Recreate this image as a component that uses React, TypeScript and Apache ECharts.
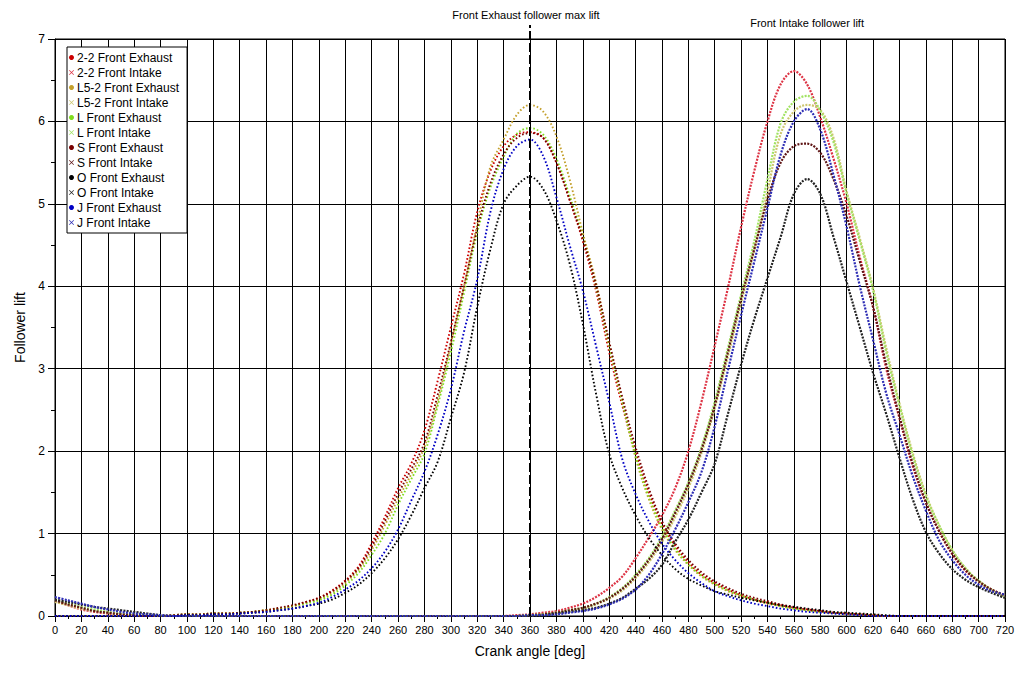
import React, { useEffect, useRef } from "react";
import * as echarts from "echarts";

const ANGLES = [
  0, 10, 20, 30, 40, 50, 60, 70, 80, 90,
  100, 110, 120, 130, 140, 150, 160, 170, 180, 190,
  200, 210, 220, 230, 240, 250, 260, 270, 280, 290,
  300, 310, 320, 330, 340, 350, 360, 370, 380, 390,
  400, 410, 420, 430, 440, 450, 460, 470, 480, 490,
  500, 510, 520, 530, 540, 550, 560, 570, 580, 590,
  600, 610, 620, 630, 640, 650, 660, 670, 680, 690,
  700, 710, 720,
];

const EX_2_2 = [
  0, 0, 0, 0, 0, 0, 0, 0, 0, 0.01,
  0.02, 0.02, 0.03, 0.03, 0.04, 0.05, 0.07, 0.09, 0.12, 0.17,
  0.22, 0.31, 0.43, 0.6, 0.88, 1.2, 1.55, 1.85, 2.25, 2.85,
  3.5, 4.15, 4.9, 5.4, 5.7, 5.84, 5.87, 5.8, 5.5, 5.05,
  4.55, 3.95, 3.2, 2.55, 1.98, 1.5, 1.12, 0.85, 0.65, 0.5,
  0.4, 0.32, 0.25, 0.2, 0.16, 0.13, 0.1, 0.08, 0.06, 0.04,
  0.03, 0.02, 0.01, 0, 0, 0, 0, 0, 0, 0,
  0, 0, 0,
];
const IN_2_2 = [
  0.18, 0.13, 0.08, 0.05, 0.03, 0.02, 0.01, 0, 0, 0,
  0, 0, 0, 0, 0, 0, 0, 0, 0, 0,
  0, 0, 0, 0, 0, 0, 0, 0, 0, 0,
  0, 0, 0, 0, 0, 0.01, 0.02, 0.04, 0.06, 0.1,
  0.15, 0.23, 0.34, 0.48, 0.7, 0.95, 1.22, 1.55, 2.0, 2.6,
  3.28, 3.98, 4.72, 5.4, 6.0, 6.45, 6.61, 6.45, 6.05, 5.55,
  5.0, 4.35, 3.75, 3.0, 2.4, 1.82, 1.38, 1.03, 0.75, 0.55,
  0.42, 0.32, 0.25,
];
const EX_L5_2 = [
  0, 0, 0, 0, 0, 0, 0, 0, 0, 0.01,
  0.02, 0.02, 0.03, 0.03, 0.04, 0.05, 0.07, 0.09, 0.12, 0.16,
  0.2, 0.28, 0.4, 0.56, 0.8, 1.1, 1.42, 1.72, 2.05, 2.6,
  3.3, 4.0, 4.75, 5.45, 5.78, 6.08, 6.2, 6.12, 5.82, 5.3,
  4.65, 4.05, 3.3, 2.6, 1.92, 1.42, 1.05, 0.8, 0.62, 0.48,
  0.38, 0.3, 0.24, 0.19, 0.15, 0.12, 0.09, 0.07, 0.05, 0.04,
  0.03, 0.02, 0.01, 0, 0, 0, 0, 0, 0, 0,
  0, 0, 0,
];
const IN_L5_2 = [
  0.17, 0.13, 0.09, 0.06, 0.04, 0.02, 0.01, 0, 0, 0,
  0, 0, 0, 0, 0, 0, 0, 0, 0, 0,
  0, 0, 0, 0, 0, 0, 0, 0, 0, 0,
  0, 0, 0, 0, 0, 0, 0.01, 0.02, 0.04, 0.06,
  0.09, 0.14, 0.21, 0.31, 0.46, 0.65, 0.9, 1.2, 1.55, 1.98,
  2.52, 3.15, 3.8, 4.45, 5.15, 5.85, 6.12, 6.2, 6.14, 5.8,
  5.15, 4.58, 3.98, 3.25, 2.58, 1.98, 1.48, 1.1, 0.8, 0.58,
  0.42, 0.31, 0.22,
];
const EX_L = [
  0, 0, 0, 0, 0, 0, 0, 0, 0, 0.01,
  0.02, 0.02, 0.03, 0.03, 0.04, 0.05, 0.07, 0.09, 0.12, 0.15,
  0.19, 0.26, 0.37, 0.52, 0.74, 1.0, 1.35, 1.66, 1.97, 2.55,
  3.2, 3.92, 4.65, 5.2, 5.57, 5.85, 5.92, 5.84, 5.55, 5.1,
  4.6, 4.0, 3.28, 2.6, 1.95, 1.45, 1.08, 0.82, 0.63, 0.49,
  0.39, 0.31, 0.25, 0.2, 0.16, 0.12, 0.09, 0.07, 0.05, 0.04,
  0.03, 0.02, 0.01, 0, 0, 0, 0, 0, 0, 0,
  0, 0, 0,
];
const IN_L = [
  0.19, 0.15, 0.11, 0.08, 0.05, 0.03, 0.02, 0.01, 0, 0,
  0, 0, 0, 0, 0, 0, 0, 0, 0, 0,
  0, 0, 0, 0, 0, 0, 0, 0, 0, 0,
  0, 0, 0, 0, 0, 0, 0.01, 0.02, 0.04, 0.07,
  0.1, 0.15, 0.23, 0.34, 0.5, 0.7, 0.96, 1.28, 1.62, 2.05,
  2.6, 3.25, 3.9, 4.55, 5.3, 5.98, 6.24, 6.31, 6.13, 5.75,
  5.12, 4.55, 3.95, 3.2, 2.55, 1.95, 1.45, 1.1, 0.8, 0.58,
  0.43, 0.32, 0.24,
];
const EX_S = [
  0, 0, 0, 0, 0, 0, 0, 0, 0, 0.01,
  0.02, 0.02, 0.03, 0.03, 0.04, 0.05, 0.07, 0.1, 0.13, 0.17,
  0.22, 0.3, 0.42, 0.58, 0.84, 1.15, 1.48, 1.78, 2.1, 2.68,
  3.32, 4.0, 4.7, 5.25, 5.6, 5.8, 5.86, 5.8, 5.5, 5.05,
  4.58, 4.02, 3.33, 2.65, 2.05, 1.55, 1.15, 0.88, 0.68, 0.53,
  0.42, 0.34, 0.27, 0.22, 0.18, 0.14, 0.11, 0.08, 0.06, 0.04,
  0.03, 0.02, 0.01, 0, 0, 0, 0, 0, 0, 0,
  0, 0, 0,
];
const IN_S = [
  0.19, 0.14, 0.1, 0.06, 0.04, 0.02, 0.01, 0, 0, 0,
  0, 0, 0, 0, 0, 0, 0, 0, 0, 0,
  0, 0, 0, 0, 0, 0, 0, 0, 0, 0,
  0, 0, 0, 0, 0, 0, 0.01, 0.02, 0.04, 0.07,
  0.1, 0.15, 0.22, 0.33, 0.48, 0.68, 0.93, 1.25, 1.6, 2.02,
  2.55, 3.2, 3.85, 4.45, 5.05, 5.5, 5.7, 5.73, 5.62, 5.3,
  4.85, 4.3, 3.75, 3.05, 2.42, 1.85, 1.38, 1.03, 0.76, 0.56,
  0.42, 0.32, 0.25,
];
const EX_O = [
  0, 0, 0, 0, 0, 0, 0, 0, 0, 0,
  0.01, 0.01, 0.02, 0.02, 0.03, 0.04, 0.05, 0.07, 0.09, 0.12,
  0.15, 0.2, 0.28, 0.38, 0.52, 0.7, 0.93, 1.22, 1.55, 1.87,
  2.4, 2.95, 3.75, 4.45, 5.0, 5.22, 5.33, 5.18, 4.8, 4.28,
  3.55, 2.7, 1.97, 1.55, 1.22, 0.95, 0.74, 0.57, 0.45, 0.37,
  0.3, 0.26, 0.22, 0.19, 0.16, 0.13, 0.11, 0.09, 0.07, 0.05,
  0.04, 0.03, 0.02, 0.01, 0, 0, 0, 0, 0, 0,
  0, 0, 0,
];
const IN_O = [
  0.2, 0.17, 0.14, 0.11, 0.09, 0.07, 0.05, 0.03, 0.01, 0,
  0, 0, 0, 0, 0, 0, 0, 0, 0, 0,
  0, 0, 0, 0, 0, 0, 0, 0, 0, 0,
  0, 0, 0, 0, 0, 0, 0, 0.01, 0.03, 0.05,
  0.07, 0.1, 0.15, 0.22, 0.33, 0.45, 0.62, 0.9, 1.17, 1.5,
  1.85, 2.45, 3.05, 3.6, 4.1, 4.6, 5.12, 5.3, 5.12, 4.6,
  4.05, 3.5, 2.95, 2.45, 1.92, 1.42, 1.02, 0.76, 0.57, 0.44,
  0.35, 0.28, 0.22,
];
const EX_J = [
  0, 0, 0, 0, 0, 0, 0, 0, 0, 0,
  0.01, 0.01, 0.02, 0.02, 0.03, 0.04, 0.05, 0.07, 0.09, 0.12,
  0.16, 0.23, 0.32, 0.43, 0.58, 0.78, 1.05, 1.4, 1.75, 2.2,
  2.75, 3.45, 4.08, 4.9, 5.42, 5.7, 5.78, 5.58, 5.08, 4.5,
  3.95, 3.28, 2.6, 1.9, 1.48, 1.15, 0.88, 0.68, 0.52, 0.4,
  0.3, 0.24, 0.19, 0.15, 0.12, 0.09, 0.07, 0.05, 0.04, 0.03,
  0.02, 0.01, 0, 0, 0, 0, 0, 0, 0, 0,
  0, 0, 0,
];
const IN_J = [
  0.23, 0.19, 0.15, 0.11, 0.08, 0.05, 0.03, 0.02, 0.01, 0,
  0, 0, 0, 0, 0, 0, 0, 0, 0, 0,
  0, 0, 0, 0, 0, 0, 0, 0, 0, 0,
  0, 0, 0, 0, 0, 0, 0.01, 0.01, 0.02, 0.04,
  0.06, 0.09, 0.14, 0.21, 0.32, 0.5, 0.75, 1.05, 1.38, 1.75,
  2.3, 2.98, 3.65, 4.3, 4.95, 5.6, 6.0, 6.15, 5.9, 5.35,
  4.72, 4.0, 3.35, 2.7, 2.2, 1.7, 1.28, 0.92, 0.68, 0.5,
  0.38, 0.3, 0.26,
];

const SERIES_NAMES = [
  "2-2 Front Exhaust",
  "2-2 Front Intake",
  "L5-2 Front Exhaust",
  "L5-2 Front Intake",
  "L Front Exhaust",
  "L Front Intake",
  "S Front Exhaust",
  "S Front Intake",
  "O Front Exhaust",
  "O Front Intake",
  "J Front Exhaust",
  "J Front Intake",
];
const SERIES_VALUES = [EX_2_2, IN_2_2, EX_L5_2, IN_L5_2, EX_L, IN_L, EX_S, IN_S, EX_O, IN_O, EX_J, IN_J];
const SERIES_COLORS = [
  "#cc0000", "#dd3344",
  "#c4a02c", "#cdc66e",
  "#7fdc1e", "#a2e262",
  "#780000", "#5e1414",
  "#000000", "#222222",
  "#0000c4", "#2c2cb4",
];

const X_MIN = 0;
const X_MAX = 720;
const X_STEP = 20;
const Y_MIN = 0;
const Y_MAX = 7;
const Y_STEP = 1;
const EXHAUST_MARK_ANGLE = 360;
const INTAKE_MARK_ANGLE = 570;
const EXHAUST_MARK_TEXT = "Front Exhaust follower max lift";
const INTAKE_MARK_TEXT = "Front Intake follower lift";

const FONT = "'Liberation Sans', Arial, sans-serif";
const X_ICON = "path://M0,1L1,0L5,4L9,0L10,1L6,5L10,9L9,10L5,6L1,10L0,9L4,5Z";

export default function App() {
  const ref = useRef<HTMLDivElement>(null);

  useEffect(() => {
    if (!ref.current) return;
    const chart = echarts.init(ref.current, undefined, { renderer: "svg" });

    const series = SERIES_NAMES.map((name, i) => {
      const isIntake = i % 2 === 1;
      return {
        name,
        type: "line",
        smooth: 0.35,
        showSymbol: false,
        symbol: "none",
        data: ANGLES.map((a, k) => [a, SERIES_VALUES[i][k]]),
        itemStyle: { color: SERIES_COLORS[i] },
        lineStyle: isIntake
          ? { color: SERIES_COLORS[i], width: 2.2, type: [2, 1.3] }
          : { color: SERIES_COLORS[i], width: 1.9, type: [1.6, 2.1] },
        emphasis: { disabled: true },
        z: 3,
      };
    });

    chart.setOption({
      animation: false,
      backgroundColor: "#ffffff",
      textStyle: { fontFamily: FONT },
      grid: { left: 55, top: 39, right: 23, bottom: 61, show: true, borderColor: "#000", borderWidth: 1 },
      legend: {
        orient: "vertical",
        left: 67,
        top: 47,
        padding: [3, 8, 3, 2],
        itemGap: 0,
        itemWidth: 5,
        itemHeight: 5,
        backgroundColor: "#ffffff",
        borderColor: "#000000",
        borderWidth: 1,
        selectedMode: false,
        textStyle: { fontFamily: FONT, fontSize: 12, color: "#000", lineHeight: 15, padding: [0, 0, 0, -2] },
        data: SERIES_NAMES.map((name, i) => ({
          name,
          icon: i % 2 === 1 ? X_ICON : "circle",
          itemStyle: { color: SERIES_COLORS[i], borderWidth: 0 },
        })),
      },
      xAxis: {
        type: "value",
        min: X_MIN,
        max: X_MAX,
        interval: X_STEP,
        name: "Crank angle [deg]",
        nameLocation: "middle",
        nameGap: 28,
        nameTextStyle: { fontFamily: FONT, fontSize: 14, color: "#000" },
        axisLine: { lineStyle: { color: "#000", width: 1 } },
        axisTick: { length: 6, lineStyle: { color: "#000" } },
        minorTick: { show: true, splitNumber: 2, length: 3, lineStyle: { color: "#000" } },
        axisLabel: { fontFamily: FONT, fontSize: 11, color: "#000", margin: 8 },
        splitLine: { show: true, lineStyle: { color: "#000", width: 1 } },
      },
      yAxis: {
        type: "value",
        min: Y_MIN,
        max: Y_MAX,
        interval: Y_STEP,
        name: "Follower lift",
        nameLocation: "middle",
        nameGap: 28,
        nameTextStyle: { fontFamily: FONT, fontSize: 14, color: "#000" },
        axisLine: { show: true, lineStyle: { color: "#000", width: 1 } },
        axisTick: { show: true, length: 7, lineStyle: { color: "#000" } },
        minorTick: { show: true, splitNumber: 2, length: 4, lineStyle: { color: "#000" } },
        axisLabel: { fontFamily: FONT, fontSize: 12, color: "#000", margin: 10 },
        splitLine: { show: true, lineStyle: { color: "#000", width: 1 } },
      },
      series,
    });

    const bottom = chart.convertToPixel({ gridIndex: 0 }, [EXHAUST_MARK_ANGLE, Y_MIN]) as number[];
    const top = chart.convertToPixel({ gridIndex: 0 }, [EXHAUST_MARK_ANGLE, Y_MAX]) as number[];
    const intake = chart.convertToPixel({ gridIndex: 0 }, [INTAKE_MARK_ANGLE, Y_MAX]) as number[];

    chart.setOption({
      graphic: [
        {
          type: "line",
          z: 10,
          shape: { x1: bottom[0], y1: bottom[1], x2: top[0], y2: top[1] - 14 },
          style: { stroke: "#000", lineWidth: 2, lineDash: [9, 3] },
        },
        {
          type: "text",
          z: 10,
          x: top[0] - 4,
          y: top[1] - 24,
          style: {
            text: EXHAUST_MARK_TEXT,
            fill: "#000",
            font: `11px ${FONT}`,
            align: "center",
            verticalAlign: "middle",
          },
        },
        {
          type: "text",
          z: 10,
          x: intake[0],
          y: intake[1] - 16,
          style: {
            text: INTAKE_MARK_TEXT,
            fill: "#000",
            font: `11px ${FONT}`,
            align: "center",
            verticalAlign: "middle",
          },
        },
      ],
    });

    return () => chart.dispose();
  }, []);

  return (
    <div
      ref={ref}
      style={{ position: "absolute", left: 0, top: 0, width: 1028, height: 677, background: "#fff" }}
    />
  );
}
